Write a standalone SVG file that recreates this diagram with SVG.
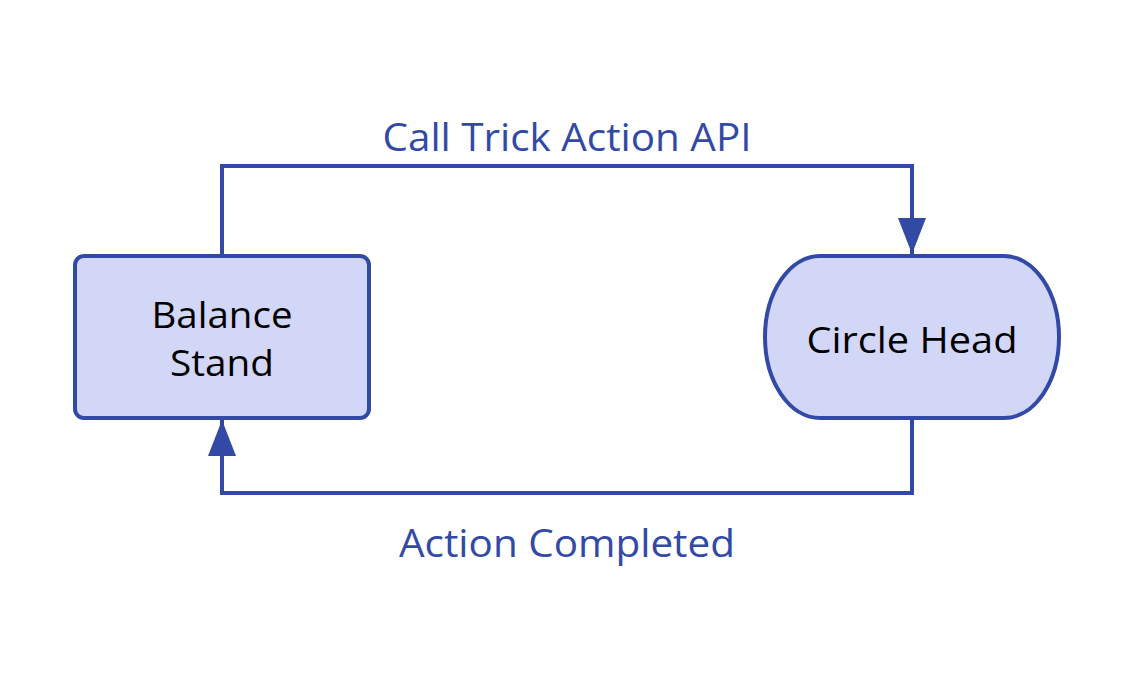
<svg xmlns="http://www.w3.org/2000/svg" width="1134" height="676" viewBox="0 0 1134 676">
<style>
.n{fill:#d3d7f7;stroke:#3349a6;stroke-width:4}
.c{fill:none;stroke:#3349a6;stroke-width:4}
.t{font-family:"Open Sans","Noto Sans",sans-serif;font-size:37px;text-anchor:middle;fill:#000}
.l{font-family:"Open Sans","Noto Sans",sans-serif;font-size:38px;text-anchor:middle;fill:#3349a6}
</style>
<defs><marker id="a" markerUnits="userSpaceOnUse" markerWidth="40" markerHeight="30" refX="36" refY="14" orient="auto"><path d="M0,0L36,14L0,28Z" fill="#3349a6"/></marker></defs>
<rect width="1134" height="676" fill="#fff"/>
<g id="connectors">
<path class="c" d="M222,256V166H912V254" marker-end="url(#a)"/>
<path class="c" d="M912,418V493H222V420" marker-end="url(#a)"/>
<text class="l" x="567" y="151" textLength="369" lengthAdjust="spacingAndGlyphs">Call Trick Action API</text>
<text class="l" x="567" y="557" textLength="336" lengthAdjust="spacingAndGlyphs">Action Completed</text>
</g>
<g id="balance"><rect class="n" x="75" y="256" width="294" height="162" rx="9"/>
<text class="t" x="222" y="328" textLength="141" lengthAdjust="spacingAndGlyphs">Balance</text><text class="t" x="222" y="376" textLength="104" lengthAdjust="spacingAndGlyphs">Stand</text></g>
<g id="circle"><path class="n" d="M820,256H1004A55,81 0 0 1 1004,418H820A55,81 0 0 1 820,256Z"/>
<text class="t" x="912" y="353" textLength="211" lengthAdjust="spacingAndGlyphs">Circle Head</text></g>
</svg>
